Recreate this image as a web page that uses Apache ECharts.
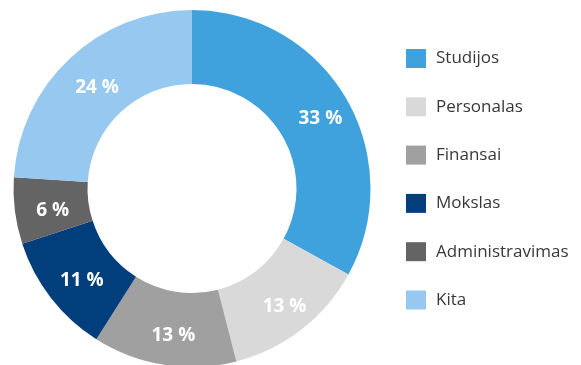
<!DOCTYPE html>
<html>
<head>
<meta charset="utf-8">
<style>
  html, body { margin: 0; padding: 0; background: #ffffff; }
  #chart { width: 581px; height: 365px; }
</style>
<script src="https://cdn.jsdelivr.net/npm/echarts@6/dist/echarts.min.js"></script>
</head>
<body>
<div id="chart"></div>
<script>
// Expense categories and their shares (percent)
const categories = ['Studijos', 'Personalas', 'Finansai', 'Mokslas', 'Administravimas', 'Kita'];
const shares = [33, 13, 13, 11, 6, 24];
const colors = ['#40a2dc', '#d9d9d9', '#a0a0a0', '#003f7c', '#646464', '#97c8ef'];

const chart = echarts.init(document.getElementById('chart'), null, { renderer: 'canvas' });

chart.setOption({
  animation: false,
  color: colors,
  legend: {
    orient: 'vertical',
    left: 406,
    top: 49,
    padding: 0,
    icon: 'rect',
    itemWidth: 20,
    itemHeight: 19,
    itemGap: 29.3,
    textStyle: {
      fontFamily: 'Open Sans',
      fontSize: 17,
      color: '#383838',
      padding: [0, 0, 0, 5]
    },
    data: categories
  },
  series: [{
    type: 'pie',
    center: [192, 188.5],
    radius: [104.5, 178.5],
    startAngle: 90,
    clockwise: true,
    avoidLabelOverlap: false,
    itemStyle: { borderWidth: 0 },
    emphasis: { disabled: true },
    label: {
      show: true,
      position: 'inside',
      formatter: '{c} %',
      color: '#ffffff',
      fontFamily: 'Open Sans',
      fontWeight: 'bold',
      fontSize: 19,
      offset: [4, 4]
    },
    labelLine: { show: false },
    data: categories.map((name, i) => ({ name: name, value: shares[i] }))
  }]
});
</script>
</body>
</html>
